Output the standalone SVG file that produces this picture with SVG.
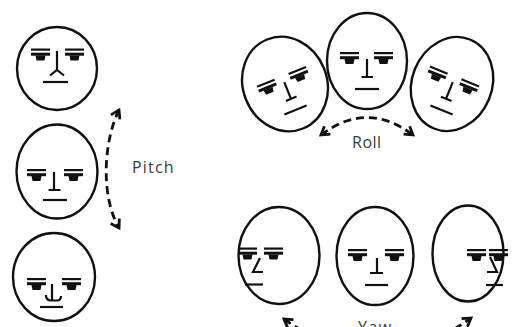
<svg xmlns="http://www.w3.org/2000/svg" xmlns:xlink="http://www.w3.org/1999/xlink" width="513" height="327" viewBox="0 0 513 327">
  <style>
    .head { fill: none; stroke: #111; stroke-width: 2.4; }
    .feat { fill: none; stroke: #111; stroke-width: 2.2; stroke-linecap: butt; stroke-linejoin: miter; }
    .dash { fill: none; stroke: #111; stroke-width: 2.8; stroke-dasharray: 8 5; }
    .label { font-family: "Open Sans", "Liberation Sans", sans-serif; font-size: 16px; fill: #3a3a3a; }
  </style>
  <defs>
    <!-- one eye: brow line, lid bar and a dark pupil block -->
    <g id="eye">
      <rect x="0" y="0" width="19" height="2.2" fill="#111"/>
      <rect x="0" y="4.2" width="19" height="3" fill="#111"/>
      <path d="M4.5,7 H14.5 L13.5,12 H5.5 Z" fill="#111"/>
    </g>
    <marker id="chev" markerUnits="userSpaceOnUse" viewBox="-10 -7 12 14" markerWidth="12" markerHeight="14" refX="0" refY="0" orient="auto-start-reverse" overflow="visible">
      <path d="M-8,-5 L0,0 L-8,5" fill="none" stroke="#111" stroke-width="2.8" stroke-linejoin="miter"/>
    </marker>
  </defs>

  <!-- Pitch column -->
  <g id="pitch-up">
    <ellipse class="head" cx="57" cy="68.5" rx="40" ry="41.5"/>
    <use xlink:href="#eye" href="#eye" x="31" y="48.5"/>
    <use xlink:href="#eye" href="#eye" x="65" y="48.5"/>
    <path class="feat" d="M57,51 V70 M50,75.5 L57,70 L64,75.5"/>
    <path class="feat" d="M43,82 H68"/>
  </g>
  <g id="pitch-level">
    <ellipse class="head" cx="57" cy="171.5" rx="40.5" ry="47"/>
    <use xlink:href="#eye" href="#eye" x="27" y="169"/>
    <use xlink:href="#eye" href="#eye" x="64" y="169"/>
    <path class="feat" d="M54,172 V190 M48.5,190 H60.5"/>
    <path class="feat" d="M43,200 H67"/>
  </g>
  <g id="pitch-down">
    <ellipse class="head" cx="54" cy="277" rx="41" ry="44"/>
    <use xlink:href="#eye" href="#eye" x="27" y="278"/>
    <use xlink:href="#eye" href="#eye" x="62" y="278"/>
    <path class="feat" d="M52,284 V300.5 M46,295 Q46,300.5 51,300.5 H57 Q61,300.5 61,296"/>
    <path class="feat" d="M40,307 H63"/>
  </g>

  <!-- Roll row -->
  <g id="roll-left" transform="translate(285,84) rotate(-22)">
    <ellipse class="head" cx="0" cy="0" rx="42" ry="48"/>
    <use xlink:href="#eye" href="#eye" x="-27" y="-9"/>
    <use xlink:href="#eye" href="#eye" x="7" y="-9"/>
    <path class="feat" d="M0,-2 V16 M-5.5,16 H6"/>
    <path class="feat" d="M-12,28 H12"/>
  </g>
  <g id="roll-level">
    <ellipse class="head" cx="367" cy="61" rx="40" ry="48"/>
    <use xlink:href="#eye" href="#eye" x="340" y="52"/>
    <use xlink:href="#eye" href="#eye" x="374" y="52"/>
    <path class="feat" d="M367,59 V77 M361.5,77 H373"/>
    <path class="feat" d="M355,89 H379"/>
  </g>
  <g id="roll-right" transform="translate(452,84) rotate(22)">
    <ellipse class="head" cx="0" cy="0" rx="40" ry="48"/>
    <use xlink:href="#eye" href="#eye" x="-27" y="-9"/>
    <use xlink:href="#eye" href="#eye" x="7" y="-9"/>
    <path class="feat" d="M0,-2 V16 M-5.5,16 H6"/>
    <path class="feat" d="M-12,28 H12"/>
  </g>

  <!-- Yaw row -->
  <g id="yaw-left">
    <ellipse class="head" cx="279" cy="255.5" rx="40.5" ry="48.5"/>
    <use xlink:href="#eye" href="#eye" x="238" y="247.5"/>
    <use xlink:href="#eye" href="#eye" x="264" y="247.5"/>
    <path class="feat" d="M260,258 L253,272 H263"/>
    <path class="feat" d="M245,284.5 H263"/>
  </g>
  <g id="yaw-level">
    <ellipse class="head" cx="375" cy="256" rx="38.5" ry="49"/>
    <use xlink:href="#eye" href="#eye" x="348" y="249"/>
    <use xlink:href="#eye" href="#eye" x="385" y="249"/>
    <path class="feat" d="M377,258 V273 M370,273 H383"/>
    <path class="feat" d="M365,285 H388"/>
  </g>
  <g id="yaw-right">
    <ellipse class="head" cx="468" cy="253.5" rx="35.5" ry="48"/>
    <use xlink:href="#eye" href="#eye" x="467" y="249"/>
    <use xlink:href="#eye" href="#eye" x="489" y="249"/>
    <path class="feat" d="M490,257 L497,272 H487"/>
    <path class="feat" d="M486,285 H503"/>
  </g>

  <!-- Rotation arrows -->
  <g id="connectors">
    <path class="dash" d="M119,110 C104,140 100,195 119,228" marker-start="url(#chev)" marker-end="url(#chev)"/>
    <path class="dash" d="M321,135 Q367,100 413,135" marker-start="url(#chev)" marker-end="url(#chev)"/>
    <path class="dash" d="M284,319 Q377,385 471,318" marker-start="url(#chev)" marker-end="url(#chev)"/>
  </g>

  <!-- Axis labels -->
  <g id="labels">
    <text class="label" x="132" y="173" letter-spacing="1.2">Pitch</text>
    <text class="label" x="352" y="148" letter-spacing="0.5">Roll</text>
    <text class="label" x="358" y="332.5" letter-spacing="1.5">Yaw</text>
  </g>
</svg>
